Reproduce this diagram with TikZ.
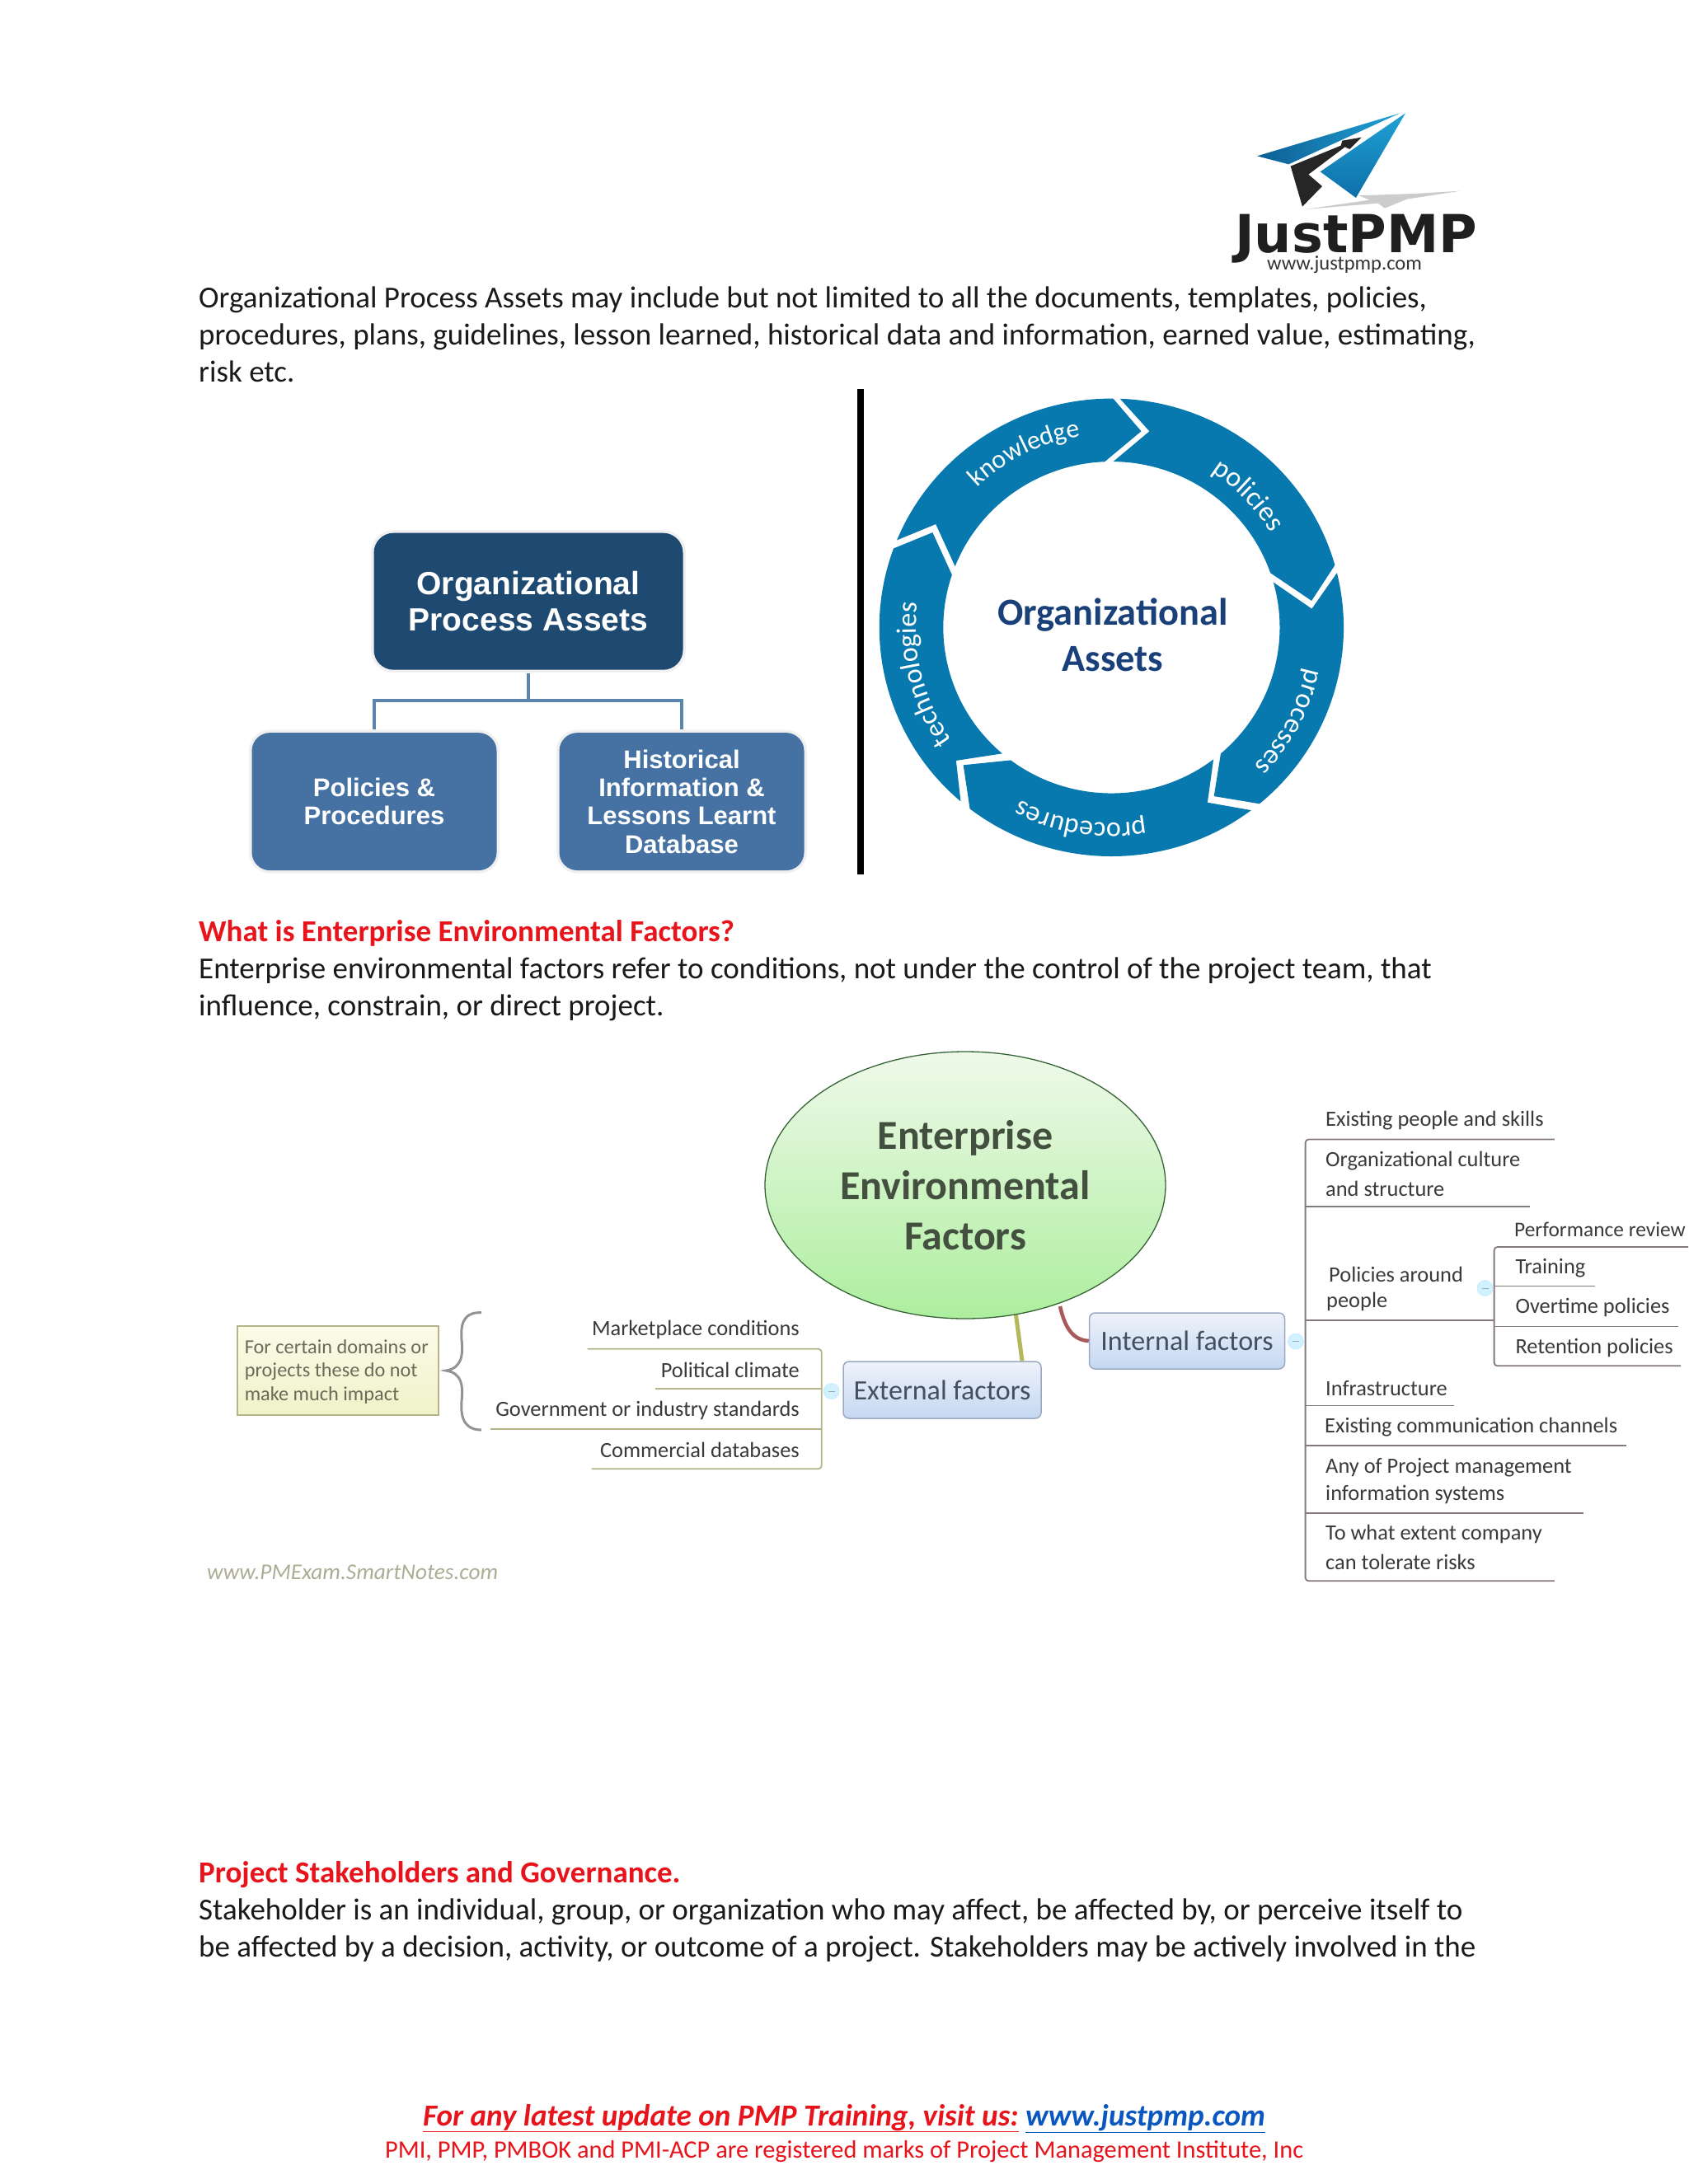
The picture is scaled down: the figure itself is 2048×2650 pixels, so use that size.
\documentclass[tikz,border=0pt]{standalone}
\usepackage{fontspec}
\setmainfont{Carlito}
\newfontfamily\arialf{Liberation Sans}
\newfontfamily\djv{DejaVu Sans}
\usetikzlibrary{shapes.geometric,decorations.text}
\newcommand\fs[2]{\fontsize{#1}{#2}\selectfont}
\definecolor{ringblue}{HTML}{0879AE}
\definecolor{orgdark}{HTML}{1E4A72}
\definecolor{orgmid}{HTML}{4672A3}
\definecolor{orgline}{HTML}{5A86AE}
\definecolor{navytxt}{HTML}{1A4079}
\definecolor{redtxt}{HTML}{E8141C}
\definecolor{linkblue}{HTML}{0B57C0}
\definecolor{bodytxt}{HTML}{1A1A1A}
\definecolor{mmtxt}{HTML}{3A3A3A}
\definecolor{inttree}{HTML}{857A7A}
\definecolor{exttree}{HTML}{B4B488}
\definecolor{wingdark}{HTML}{0E5E94}
\definecolor{winglight}{HTML}{1FA2D6}
\definecolor{wingmid}{HTML}{0E6FA8}
\definecolor{ellipsetop}{HTML}{EFF9EA}
\definecolor{ellipsemid}{HTML}{D3F3C4}
\definecolor{ellipsebot}{HTML}{ADEE9E}
\definecolor{ellipsetxt}{HTML}{44503F}
\definecolor{boxtxt}{HTML}{445060}
\definecolor{boxtop}{HTML}{EEF2FA}
\definecolor{boxbot}{HTML}{C5D8F2}
\definecolor{boxedge}{HTML}{9AA9C0}
\definecolor{notetop}{HTML}{FBFBE8}
\definecolor{notebot}{HTML}{F0F2C8}
\definecolor{notetxt}{HTML}{6A6A5A}
\definecolor{olivewire}{HTML}{B5B85A}
\definecolor{maroonwire}{HTML}{A85A5A}
\definecolor{wmark}{HTML}{ADAD95}
\newcommand\ringseg[8]{\fill[ringblue] (#1:690) arc[start angle=#1,end angle=#5,radius=690] -- (#7:#6) -- (#8:500) arc[start angle=#8,end angle=#4,radius=500] -- (#3:#2) -- cycle;}
\newcommand\ringword[5]{\path[decorate,decoration={text along path,text align=center,text={|\fs{#5}{#5}\color{white}|#4}}] (#1:#3) arc[start angle=#1,end angle=#2,radius=#3];}
\newcommand\minusmark[1]{\draw[line width=1pt,color=boxedge] ([xshift=-4]#1.center) -- ([xshift=4]#1.center);}
\tikzset{
 para/.style={anchor=base west,inner sep=0pt,text=bodytxt,font=\fs{37}{45}},
 redhead/.style={anchor=base west,inner sep=0pt,text=redtxt,font=\fs{37}{45}\bfseries},
 orgroot/.style={fill=orgdark,preaction={draw=gray!12,line width=7pt},rounded corners=24pt,minimum width=375pt,minimum height=166pt,inner sep=0pt,text=white,align=center,font=\arialf\bfseries\fs{39}{43.3}},
 orgchild/.style={fill=orgmid,preaction={draw=gray!12,line width=7pt},rounded corners=22pt,minimum width=297pt,minimum height=167pt,inner sep=0pt,text=white,align=center,font=\arialf\bfseries\fs{31}{34.4}},
 orgwire/.style={draw=orgline,line width=4.6pt},
 leaf/.style={anchor=base west,inner sep=0pt,text=mmtxt,font=\fs{26.4}{30}},
 leafr/.style={anchor=base east,inner sep=0pt,text=mmtxt,font=\fs{26.4}{30}},
 notetext/.style={anchor=base west,inner sep=0pt,text=notetxt,font=\fs{24.3}{25}},
 mainbox/.style={draw=boxedge,line width=1.5pt,rounded corners=7pt,top color=boxtop,bottom color=boxbot,inner sep=0pt,text=boxtxt,font=\fs{34}{34}},
 collapse/.style={circle,minimum size=19pt,inner sep=0pt,fill=blue!30!cyan!18,draw=blue!30!cyan!22,line width=.8pt},
 intline/.style={draw=inttree,line width=1.8pt},
 extline/.style={draw=exttree,line width=1.8pt},
}
\begin{document}
\begin{tikzpicture}[x=1pt,y=-1pt]
\useasboundingbox (0,0) rectangle (2048,2650);
\fill[white] (0,0) rectangle (2048,2650);
% logo
\begin{scope}[shift={(1400,100)},x=0.3333pt,y=-0.3333pt]
\fill[gray!40] (548,462) -- (785,428) -- (745,412) -- (950,405) -- (1115,395) -- (920,425) -- (840,458) -- (815,440) -- cycle;
\shade[left color=wingdark,right color=winglight] (375,268) -- (895,112) -- (490,298) -- cycle;
\shade[top color=winglight,bottom color=wingmid] (915,112) -- (605,325) -- (735,420) -- cycle;
\fill[black!85] (497,305) -- (680,230) -- (685,212) -- (755,200) -- (712,243) -- (695,235) -- (562,335) -- (612,378) -- (540,452) -- cycle;
\end{scope}
\node[anchor=base west,inner sep=0pt,text=black!88,font=\djv\bfseries\fs{63.6}{64}] (logotxt) at (1498,306.7) {JustPMP};
\node[anchor=base west,inner sep=0pt,text=black!80,font=\fs{24.5}{25}] (logourl) at (1537,327.7) {www.justpmp.com};
% intro
\node[para] (p1) at (241,373) {Organizational Process Assets may include but not limited to all the documents, templates, policies,};
\node[para] (p2) at (241,418) {procedures, plans, guidelines, lesson learned, historical data and information, earned value, estimating,};
\node[para] (p3) at (241,463) {risk etc.};
% org chart
\node[orgroot] (root) at (641,729.7) {Organizational\\Process Assets};
\node[orgchild] (kidl) at (454,972.6) {Policies \&\\Procedures};
\node[orgchild] (kidr) at (827,972.6) {Historical\\Information \&\\Lessons Learnt\\Database};
\coordinate (bus) at (641,850);
\draw[orgwire,shorten <=4pt] (root.south) -- (bus);
\draw[orgwire,shorten <=4pt] (kidl.north) |- (bus);
\draw[orgwire,shorten <=4pt] (kidr.north) |- (bus);
\fill[black] (1040,472) rectangle (1048.4,1061);
% ring
\begin{scope}[shift={(1348.4,761.3)},x=0.4082pt,y=-0.4025pt]
\ringseg{202.4}{608}{210.8}{201.6}{270.4}{598}{278.5}{267.7}
\ringseg{272.1}{602}{280.8}{270.6}{344.2}{600}{352.3}{340.8}
\ringseg{346.2}{598}{354.6}{344.2}{410.4}{593}{419.1}{409.5}
\ringseg{53}{600}{61.6}{52.7}{127.6}{605}{136.7}{126.8}
\ringseg{130.5}{612}{139}{130.5}{200.2}{604}{208.3}{198.5}
\end{scope}
\begin{scope}[shift={(1348.4,761.3)}]
\ringword{183.5}{303.5}{235}{knowledge}{32}
\ringword{256}{376}{224}{policies}{34}
\ringword{-32}{88}{241}{processes}{34}
\ringword{39}{159}{237}{procedures}{34}
\ringword{106}{226}{237}{technologies}{34}
\end{scope}
\node[anchor=base,inner sep=0pt,text=navytxt,align=center,font=\bfseries\fs{46.4}{57}] (ringtxt) at (1350,758) {Organizational};
\node[anchor=base,inner sep=0pt,text=navytxt,align=center,font=\bfseries\fs{46.4}{57}] (ringtxtb) at (1350,814) {Assets};
% EEF
\node[redhead] (h1) at (241,1142) {What is Enterprise Environmental Factors?};
\node[para] (p4) at (241,1187) {Enterprise environmental factors refer to conditions, not under the control of the project team, that};
\node[para] (p5) at (241,1232) {influence, constrain, or direct project.};
% mind map
\node[mainbox,minimum width=237pt,minimum height=68pt] (intf) at (1440,1627) {Internal factors};
\node[mainbox,minimum width=240pt,minimum height=69pt] (extf) at (1143,1686.5) {External factors};
\draw[draw=olivewire,line width=5pt] (1231.7,1590) -- ([xshift=97pt]extf.north);
\draw[draw=maroonwire,line width=4.5pt] (1286,1585) .. controls (1292,1612) and (1302,1626) .. (intf.west);
\node[ellipse,minimum width=486pt,minimum height=324pt,inner sep=0pt,draw=gray!70!green!60!black,line width=1.3pt,top color=ellipsetop,middle color=ellipsemid,bottom color=ellipsebot,text=ellipsetxt,align=center,font=\bfseries\fs{50}{61}] (ell) at (1171,1438) {Enterprise\\Environmental\\Factors};
% external branch
\node[leafr] (e1) at (970,1620.7) {Marketplace conditions};
\node[leafr] (e2) at (970,1671.7) {Political climate};
\node[leafr] (e3) at (970,1718) {Government or industry standards};
\node[leafr] (e4) at (970,1768) {Commercial databases};
\coordinate (e1e) at (712.6,1636.7);
\coordinate (e2e) at (794.7,1685);
\coordinate (e3e) at (594.8,1734);
\coordinate (e4e) at (717.5,1782.3);
\coordinate (est) at (996.7,1688);
\draw[extline,rounded corners=4pt] (e1e) -- (e1e -| est) -- (e4e -| est) -- (e4e);
\draw[extline] (e2e) -- (e2e -| est);
\draw[extline] (e3e) -- (e3e -| est);
\node[collapse] (cc1) at (1008.7,1688) {};
\minusmark{cc1}
\node[draw=exttree,line width=2pt,top color=notetop,bottom color=notebot,minimum width=244pt,minimum height=108pt,inner sep=0pt] (note) at (409.5,1663) {};
\node[notetext] (n1) at (296.6,1642) {For certain domains or};
\node[notetext] (n2) at (296.6,1670) {projects these do not};
\node[notetext] (n3) at (296.6,1699) {make much impact};
\draw[gray!85,line width=3pt] (584,1592.7) .. controls (567,1592) and (558,1600) .. (560,1625) .. controls (562,1645) and (560,1660) .. (541,1663) .. controls (560,1666) and (562,1680) .. (560,1700) .. controls (558,1725) and (567,1735) .. (584,1735);
\node[anchor=base west,inner sep=0pt,text=wmark,font=\itshape\fs{27.3}{30}] (wm) at (251,1916) {www.PMExam.SmartNotes.com};
% internal branch
\node[leaf] (i1) at (1608,1366.7) {Existing people and skills};
\node[leaf] (i2a) at (1608,1415) {Organizational culture};
\node[leaf] (i2b) at (1608,1451.3) {and structure};
\node[leaf] (i3a) at (1612,1555) {Policies around};
\node[leaf] (i3b) at (1609,1586) {people};
\node[leaf] (i4) at (1608,1693.7) {Infrastructure};
\node[leaf] (i5) at (1607,1738.3) {Existing communication channels};
\node[leaf] (i6a) at (1608,1787.4) {Any of Project management};
\node[leaf] (i6b) at (1608,1820) {information systems};
\node[leaf] (i7a) at (1608,1868.8) {To what extent company};
\node[leaf] (i7b) at (1608,1904.4) {can tolerate risks};
\node[leaf,font=\fs{25.4}{30}] (s1) at (1837,1500) {Performance review};
\node[leaf] (s2) at (1838.3,1545.4) {Training};
\node[leaf] (s3) at (1838.3,1593.6) {Overtime policies};
\node[leaf] (s4) at (1838.3,1642.3) {Retention policies};
\coordinate (ist) at (1583.6,1627.6);
\coordinate (sst) at (1812.6,1563);
\coordinate (i1e) at (1885.8,1382.5);
\coordinate (i2e) at (1856.4,1464.3);
\coordinate (i3e) at (1812.6,1602.3);
\coordinate (i4e) at (1763.8,1705.5);
\coordinate (i5e) at (1973,1754.2);
\coordinate (i6e) at (1920.5,1836);
\coordinate (i7e) at (1885.8,1918.3);
\coordinate (s1e) at (2048,1513);
\coordinate (s2e) at (1934.7,1560.4);
\coordinate (s3e) at (2035.6,1609.4);
\coordinate (s4e) at (2039,1657.3);
\draw[intline,rounded corners=4pt] (i1e) -- (i1e -| ist) -- (i7e -| ist) -- (i7e);
\foreach \c in {i2e,i3e,i4e,i5e,i6e} \draw[intline] (\c) -- (\c -| ist);
\draw[intline,rounded corners=4pt] (s1e) -- (s1e -| sst) -- (s4e -| sst) -- (s4e);
\foreach \c in {s2e,s3e} \draw[intline] (\c) -- (\c -| sst);
\node[collapse] (cc2) at (1572,1627.6) {};
\minusmark{cc2}
\node[collapse] (cc3) at (1801.5,1563) {};
\minusmark{cc3}
% stakeholders
\node[redhead] (h2) at (241,2284) {Project Stakeholders and Governance.};
\node[para] (p6) at (241,2329) {Stakeholder is an individual, group, or organization who may affect, be affected by, or perceive itself to};
\node[para] (p7) at (241,2374) {be affected by a decision, activity, or outcome of a project. Stakeholders may be actively involved in the};
% footer
\node[anchor=base,inner sep=0pt,font=\bfseries\itshape\fs{37.1}{40}] (f1) at (1024,2579) {\color{redtxt}\underline{For any latest update on PMP Training, visit us:} \color{linkblue}\underline{www.justpmp.com}};
\node[anchor=base,inner sep=0pt,text=redtxt,font=\fs{30.4}{36}] (f2) at (1024,2618) {PMI, PMP, PMBOK and PMI-ACP are registered marks of Project Management Institute, Inc};
\end{tikzpicture}
\end{document}
